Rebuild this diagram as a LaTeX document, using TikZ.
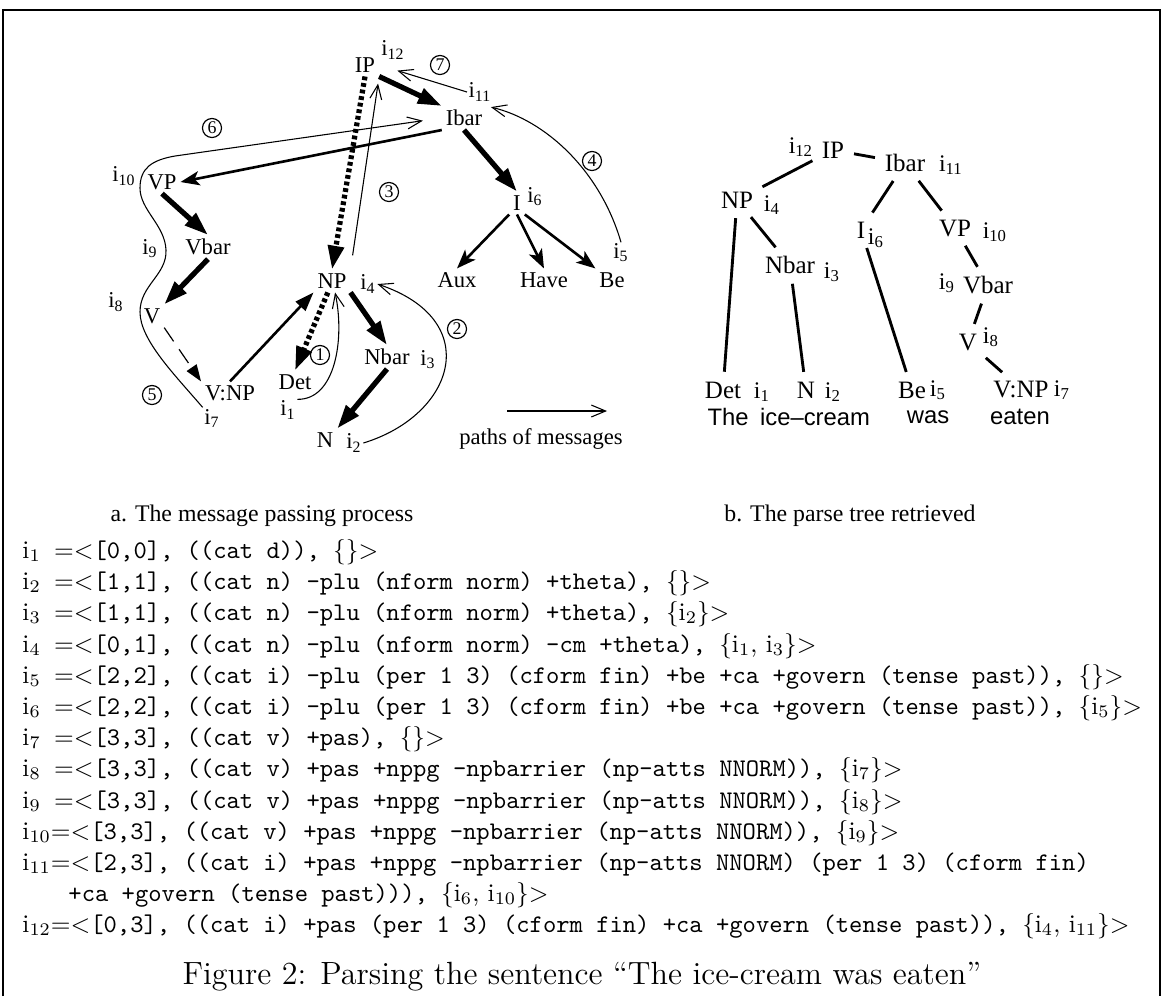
\documentclass[tikz,border=0pt]{standalone}
\usepackage{fontspec}
\setmainfont{Liberation Serif}
\setsansfont{Liberation Sans}
\setmonofont{Latin Modern Mono}
\newfontfamily\cmfont{Latin Modern Roman}
\usepackage{tikz}
\usetikzlibrary{arrows.meta}

\newcommand{\ilab}[1]{i\textsubscript{#1}}
\newcommand{\ii}[1]{{\cmfont i\textsubscript{#1}}}
\newcommand{\eqlt}{{\cmfont =<}}
\newcommand{\setof}[1]{{\cmfont\{#1\}>}}

\begin{document}
\begin{tikzpicture}[x=0.42pt,y=-0.42pt,
    lbl/.style={inner sep=1.5pt, font=\fontsize{9.5}{11}\selectfont},
    idx/.style={inner sep=0.5pt, font=\fontsize{9.5}{11}\selectfont},
    num/.style={draw, circle, line width=0.5pt, inner sep=0pt, minimum size=8pt, font=\fontsize{7.5}{8}\selectfont},
    heavy/.style={line width=2.2pt, -{Triangle[length=10pt,width=6.5pt]}},
    heavydot/.style={heavy, dash pattern=on 1.6pt off 1.2pt},
    medium/.style={line width=1.1pt, -{Stealth[length=8pt,width=6pt,inset=2pt]}},
    solidarr/.style={line width=1.1pt, -{Triangle[length=8pt,width=5.5pt]}},
    thindash/.style={line width=0.5pt, dash pattern=on 7pt off 4pt, -{Triangle[length=7pt,width=5pt]}},
    msg/.style={line width=0.45pt, -{Straight Barb[length=6pt,width=5pt]}},
    tree/.style={line width=1.2pt, shorten <=2pt, shorten >=2pt},
    tlbl/.style={inner sep=2pt, font=\fontsize{10.5}{12}\selectfont},
    tidx/.style={inner sep=0.5pt, font=\fontsize{10}{12}\selectfont},
    word/.style={inner sep=0pt, font=\sffamily\fontsize{10}{12}\selectfont},
    captxt/.style={font=\fontsize{10}{12}\selectfont},
    code/.style={anchor=base west, inner sep=0pt, font=\ttfamily\fontsize{10.65}{12}\selectfont}]
  \useasboundingbox (0,0) rectangle (1163,996);
  \draw[line width=0.8pt] (3,996) -- (3,10) -- (1160,10) -- (1160,996);

  % a. message passing
  \node[lbl] (aIP) at (365,65) {IP};
  \node[idx] (ai12) at (393,50) {\ilab{12}};
  \node[num] (n7) at (440,65) {7};
  \node[idx] (ai11) at (480,92) {\ilab{11}};
  \node[lbl] (aIbar) at (464,118) {Ibar};
  \node[num] (n6) at (212,128) {6};
  \node[idx] (ai10) at (124,176) {\ilab{10}};
  \node[lbl] (aVP) at (162,182) {VP};
  \node[num] (n3) at (389,192) {3};
  \node[lbl] (aI) at (517,203) {I};
  \node[idx] (ai6) at (535,197) {\ilab{6}};
  \node[num] (n4) at (592,161) {4};
  \node[lbl] (aVbar) at (208,247) {Vbar};
  \node[idx] (ai9) at (150,249) {\ilab{9}};
  \node[idx] (ai5) at (621,253) {\ilab{5}};
  \node[lbl] (aNP) at (332,281) {NP};
  \node[idx] (ai4) at (368,284) {\ilab{4}};
  \node[lbl] (aAux) at (457,280) {Aux};
  \node[lbl] (aHave) at (544,280) {Have};
  \node[lbl] (aBe) at (612,280) {Be};
  \node[idx] (ai8) at (116,302) {\ilab{8}};
  \node[lbl] (aV) at (152,316) {V};
  \node[num] (n2) at (457,329) {2};
  \node[num] (n1) at (320,355) {1};
  \node[lbl] (aNbar) at (387,357) {Nbar};
  \node[idx] (ai3) at (428,360) {\ilab{3}};
  \node[lbl] (aDet) at (295,382) {Det};
  \node[lbl] (aVNP) at (230,393) {V:NP};
  \node[num] (n5) at (152,395) {5};
  \node[idx] (ai1) at (288,410) {\ilab{1}};
  \node[idx] (ai7) at (212,418) {\ilab{7}};
  \node[lbl] (aN) at (325,440) {N};
  \node[idx] (ai2) at (354,443) {\ilab{2}};

  \draw[heavy] (aIP.south east) -- (aIbar.north west);
  \draw[heavydot] (aIP.south) -- (aNP.north);
  \draw[msg, shorten <=6pt, shorten >=3pt] (aNP.north east) -- (aIP.south east);
  \draw[medium] (aIbar.south west) -- (aVP.east);
  \draw[heavy] (aIbar.south) -- (aI.north);
  \draw[heavy] (aVP.south) -- (aVbar.north);
  \draw[heavy] (aVbar.south) -- (aV.north east);
  \draw[thindash] (aV.south east) -- (aVNP.north west);
  \draw[solidarr] (aVNP.north) -- (aNP.south west);
  \draw[heavydot] (aNP.-110) -- (aDet.north);
  \draw[heavy] (aNP.south east) -- (aNbar.north);
  \draw[heavy] (aNbar.south) -- (aN.north east);
  \draw[medium] (aI.south west) -- (aAux.north);
  \draw[medium] (aI.south) -- (aHave.north);
  \draw[medium] (aI.south east) -- (aBe.north west);

  \draw[msg] (ai1.north east) .. controls (335,400) and (345,340) .. (aNP.-75);
  \draw[msg] (ai2.east) .. controls (455,415) and (485,320) .. (ai4.east);
  \draw[msg, shorten >=2pt] (ai5.north) .. controls (600,170) and (545,120) .. (aIbar.north east);
  \draw[msg, shorten >=8pt] (ai11.west) -- (aIP.east);
  \draw[msg, shorten >=8pt] (ai7.north west) .. controls (175,375) and (140,340) .. (140,312)
    .. controls (140,285) and (167,275) .. (166,250)
    .. controls (165,225) and (140,210) .. (140,188)
    .. controls (140,168) and (152,160) .. (175,156) -- (aIbar.west);

  \coordinate (legS) at (507,411);
  \coordinate (legE) at (607,411);
  \draw[msg] (legS) -- (legE);
  \node[lbl] (legT) at (541,439) {paths of messages};

  % b. parse tree
  \node[tlbl] (bIP) at (833,150) {IP};
  \node[tidx] (bi12) at (801,147) {\ilab{12}};
  \node[tlbl] (bIbar) at (905,163) {Ibar};
  \node[tidx] (bi11) at (951,165) {\ilab{11}};
  \node[tlbl] (bNP) at (737,200) {NP};
  \node[tidx] (bi4) at (772,205) {\ilab{4}};
  \node[tlbl] (bI) at (861,230) {I};
  \node[tidx] (bi6) at (876,238) {\ilab{6}};
  \node[tlbl] (bVP) at (955,228) {VP};
  \node[tidx] (bi10) at (995,232) {\ilab{10}};
  \node[tlbl] (bNbar) at (790,265) {Nbar};
  \node[tidx] (bi3) at (832,272) {\ilab{3}};
  \node[tidx] (bi9) at (947,283) {\ilab{9}};
  \node[tlbl] (bVbar) at (988,285) {Vbar};
  \node[tlbl] (bV) at (968,342) {V};
  \node[tidx] (bi8) at (991,337) {\ilab{8}};
  \node[tlbl] (bDet) at (723,390) {Det};
  \node[tidx] (bi1) at (762,392) {\ilab{1}};
  \node[tlbl] (bN) at (806,390) {N};
  \node[tidx] (bi2) at (833,392) {\ilab{2}};
  \node[tlbl] (bBe) at (912,390) {Be};
  \node[tidx] (bi5) at (938,390) {\ilab{5}};
  \node[tlbl] (bVNP) at (1021,389) {V:NP};
  \node[tidx] (bi7) at (1062,390) {\ilab{7}};
  \node[word] (wThe) at (728,417) {The};
  \node[word] (wIce) at (815,417) {ice--cream};
  \node[word] (wWas) at (928,417) {was};
  \node[word] (wEaten) at (1020,417) {eaten};

  \draw[tree] (bIP) -- (bNP);
  \draw[tree] (bIP) -- (bIbar);
  \draw[tree] (bIbar) -- (bI);
  \draw[tree] (bIbar) -- (bVP);
  \draw[tree] (bNP) -- (bDet);
  \draw[tree] (bNP) -- (bNbar);
  \draw[tree] (bNbar) -- (bN);
  \draw[tree] (bI) -- (bBe);
  \draw[tree] (bVP) -- (bVbar);
  \draw[tree] (bVbar) -- (bV);
  \draw[tree] (bV) -- (bVNP);

  \node[captxt] (capA) at (262,516) {a. The message passing process};
  \node[captxt] (capB) at (850,516) {b. The parse tree retrieved};

  % item list
  \node[code] (l1) at (22,558) {\ii{1} \eqlt[0,0], ((cat d)), \setof{}};
  \node[code] (l2) at (22,589) {\ii{2} \eqlt[1,1], ((cat n) -plu (nform norm) +theta), \setof{}};
  \node[code] (l3) at (22,620) {\ii{3} \eqlt[1,1], ((cat n) -plu (nform norm) +theta), \setof{\ii{2}}};
  \node[code] (l4) at (22,652) {\ii{4} \eqlt[0,1], ((cat n) -plu (nform norm) -cm +theta), \setof{\ii{1}, \ii{3}}};
  \node[code] (l5) at (22,683) {\ii{5} \eqlt[2,2], ((cat i) -plu (per 1 3) (cform fin) +be +ca +govern (tense past)), \setof{}};
  \node[code] (l6) at (22,714) {\ii{6} \eqlt[2,2], ((cat i) -plu (per 1 3) (cform fin) +be +ca +govern (tense past)), \setof{\ii{5}}};
  \node[code] (l7) at (22,745) {\ii{7} \eqlt[3,3], ((cat v) +pas), \setof{}};
  \node[code] (l8) at (22,776) {\ii{8} \eqlt[3,3], ((cat v) +pas +nppg -npbarrier (np-atts NNORM)), \setof{\ii{7}}};
  \node[code] (l9) at (22,808) {\ii{9} \eqlt[3,3], ((cat v) +pas +nppg -npbarrier (np-atts NNORM)), \setof{\ii{8}}};
  \node[code] (l10) at (22,839) {\ii{10}\eqlt[3,3], ((cat v) +pas +nppg -npbarrier (np-atts NNORM)), \setof{\ii{9}}};
  \node[code] (l11) at (22,870) {\ii{11}\eqlt[2,3], ((cat i) +pas +nppg -npbarrier (np-atts NNORM) (per 1 3) (cform fin)};
  \node[code] (l11b) at (68,901) {+ca +govern (tense past))), \setof{\ii{6}, \ii{10}}};
  \node[code] (l12) at (22,932) {\ii{12}\eqlt[0,3], ((cat i) +pas (per 1 3) (cform fin) +ca +govern (tense past)), \setof{\ii{4}, \ii{11}}};

  \node[font=\cmfont\fontsize{13.5}{15}\selectfont] (fig) at (582,977) {Figure 2: Parsing the sentence “The ice-cream was eaten”};
\end{tikzpicture}
\end{document}
